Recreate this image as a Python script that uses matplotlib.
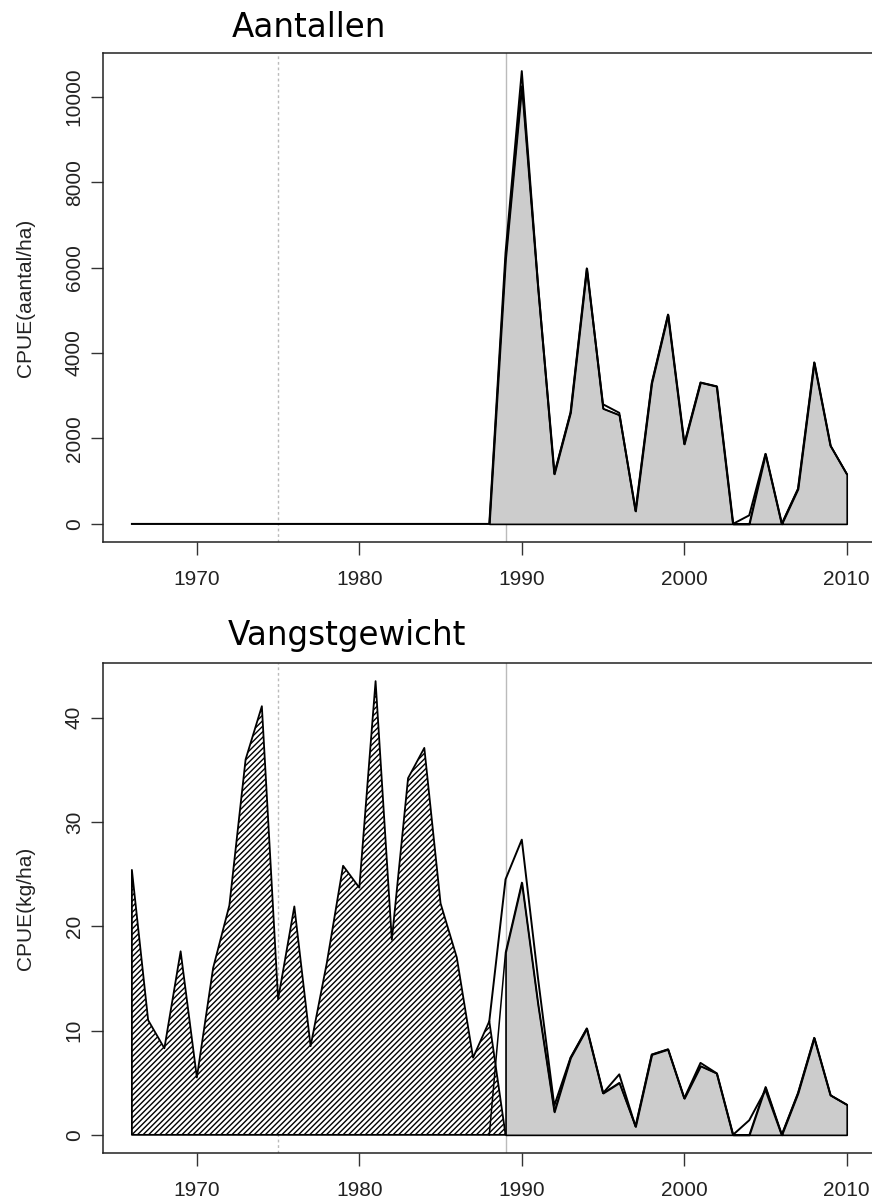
import matplotlib
matplotlib.use("Agg")
import matplotlib.pyplot as plt
import numpy as np

# years on the x axis
years = np.arange(1966, 2011)

# top panel: CPUE in numbers per ha, two estimates (A = outline, B = filled)
aantal_a = [0, 0, 0, 0, 0, 0, 0, 0, 0, 0, 0, 0, 0, 0, 0, 0, 0, 0, 0, 0, 0, 0,
            0, 6350, 10600, 5600, 1170, 2610, 5980, 2800, 2600, 300, 3300,
            4900, 1870, 3310, 3220, 0, 200, 1640, 0, 820, 3780, 1830, 1170]
aantal_b = [0, 0, 0, 0, 0, 0, 0, 0, 0, 0, 0, 0, 0, 0, 0, 0, 0, 0, 0, 0, 0, 0,
            0, 6200, 10250, 5500, 1170, 2610, 5980, 2700, 2550, 300, 3300,
            4900, 1870, 3310, 3220, 0, 0, 1640, 0, 820, 3780, 1830, 1170]

# bottom panel: CPUE in kg per ha
hist_years = np.arange(1966, 1990)
gewicht_hist = [25.4, 11.0, 8.3, 17.6, 5.5, 16.0, 22.0, 36.0, 41.1, 13.0,
                21.9, 8.5, 16.5, 25.8, 23.7, 43.5, 18.7, 34.2, 37.1, 22.2,
                17.0, 7.4, 10.9, 0.0]
recent_years = np.arange(1988, 2011)
gewicht_a = [10.9, 24.5, 28.3, 15.0, 2.8, 7.4, 10.2, 4.0, 5.8, 0.8, 7.7, 8.2,
             3.5, 6.9, 5.9, 0.0, 1.4, 4.3, 0.0, 4.0, 9.3, 3.8, 2.9]
gewicht_b = [0.0, 17.5, 24.2, 12.5, 2.2, 7.4, 10.2, 4.0, 5.0, 0.8, 7.7, 8.2,
             3.5, 6.6, 5.9, 0.0, 0.0, 4.6, 0.0, 4.0, 9.3, 3.8, 2.9]

xticks = [1970, 1980, 1990, 2000, 2010]
split_dotted = 1975
split_solid = 1989

plt.rcParams['hatch.linewidth'] = 1.0
tickfont = 'Liberation Sans'

fig = plt.figure(figsize=(8.72, 12.03), dpi=100)
ax1 = fig.add_axes([0.11846, 0.54946, 0.88532, 0.40648])
ax2 = fig.add_axes([0.11846, 0.04156, 0.88532, 0.40732])


def r_limits(lo, hi):
    pad = (hi - lo) * 0.04
    return lo - pad, hi + pad


def style(ax, yticks, ylabel):
    ax.set_xlim(*r_limits(years[0], years[-1]))
    ax.set_xticks(xticks)
    ax.set_yticks(yticks)
    ax.tick_params(length=9, width=1.0, direction='out', color='#333333')
    ax.tick_params(axis='x', pad=11)
    ax.tick_params(axis='y', pad=5, labelrotation=90)
    for lab in ax.get_xticklabels() + ax.get_yticklabels():
        lab.set_fontfamily(tickfont)
        lab.set_fontsize(15)
        lab.set_color('#222222')
    for lab in ax.get_yticklabels():
        lab.set_va('center')
    for sp in ax.spines.values():
        sp.set_linewidth(1.1)
        sp.set_color('#222222')
    ax.set_ylabel(ylabel, fontfamily=tickfont, fontsize=15, color='#222222')
    ax.yaxis.set_label_coords(-0.0885, 0.5)
    ax.axvline(split_dotted, color='#bbbbbb', lw=1.0, ls=(0, (2, 2)), zorder=0)
    ax.axvline(split_solid, color='#bbbbbb', lw=1.0, zorder=0)


# top panel
sel = years >= 1988
ax1.fill_between(years[sel], np.array(aantal_b)[sel], 0, facecolor='#cccccc',
                 edgecolor='black', lw=1.2, zorder=2)
ax1.plot(years, aantal_b, color='black', lw=1.1, zorder=3)
ax1.plot(years, aantal_a, color='black', lw=1.4, zorder=3)
ax1.set_ylim(*r_limits(0, max(aantal_a)))
style(ax1, [0, 2000, 4000, 6000, 8000, 10000], 'CPUE(aantal/ha)')

# bottom panel
ax2.fill_between(hist_years, gewicht_hist, 0, facecolor='white', hatch='//////',
                 edgecolor='black', lw=1.3, zorder=2)
sel = recent_years >= 1989
ax2.fill_between(recent_years[sel], np.array(gewicht_b)[sel], 0,
                 facecolor='#cccccc', edgecolor='black', lw=1.2, zorder=2)
ax2.plot(recent_years, gewicht_b, color='black', lw=1.1, zorder=3)
ax2.plot(recent_years, gewicht_a, color='black', lw=1.4, zorder=3)
ax2.set_ylim(*r_limits(0, max(gewicht_hist)))
style(ax2, [0, 10, 20, 30, 40], 'CPUE(kg/ha)')

fig.text(231.7 / 872, 1 - 36.7 / 1203, 'Aantallen', fontfamily='DejaVu Sans',
         fontsize=23.5, ha='left', va='baseline')
fig.text(228 / 872, 1 - 645 / 1203, 'Vangstgewicht', fontfamily='DejaVu Sans',
         fontsize=23.5, ha='left', va='baseline')

fig.savefig('out.png', dpi=100)
